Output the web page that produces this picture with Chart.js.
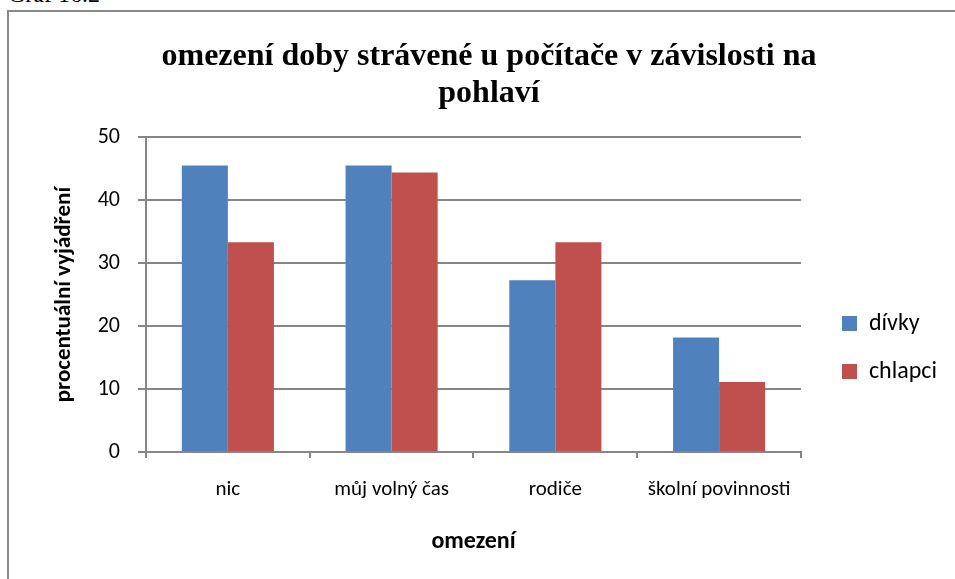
<!DOCTYPE html>
<html>
<head>
<meta charset="utf-8">
<script src="https://cdn.jsdelivr.net/npm/chart.js@4.4.1/dist/chart.umd.min.js"></script>
<style>
  html, body { margin: 0; padding: 0; background: #fff; overflow: hidden; }
  #caption {
    position: absolute; left: 8px; top: -18px;
    font: 24px "Liberation Serif", serif; line-height: 1; color: #000;
  }
  #frame {
    position: absolute; left: 7px; top: 10px; width: 1000px; height: 1000px;
    border-left: 2px solid #8a8a8a; border-top: 2px solid #8a8a8a;
  }
  #wrap { position: absolute; left: 0; top: 0; width: 955px; height: 579px; }
</style>
</head>
<body>
<div id="caption">Graf 16.2</div>
<div id="frame"></div>
<div id="wrap"><canvas id="chart"></canvas></div>
<script>
const categories = ['nic', 'můj volný čas', 'rodiče', 'školní povinnosti'];
const divky = [45.5, 45.5, 27.3, 18.2];
const chlapci = [33.3, 44.4, 33.3, 11.1];
const yTicks = [0, 10, 20, 30, 40, 50];

const sansFont = 'Carlito, Lato, "Noto Sans", sans-serif';
const axisGray = '#868686';

// nudge the legend block a bit right and down, away from the plot
const legendShift = {
  id: 'legendShift',
  afterLayout(chart) {
    const lg = chart.legend;
    lg.left += 17;
    lg.right += 17;
    lg.top += 58;
    lg.bottom += 58;
  },
};

new Chart(document.getElementById('chart'), {
  type: 'bar',
  data: {
    labels: categories,
    datasets: [
      {
        label: 'dívky',
        data: divky,
        backgroundColor: '#4F81BD',
        categoryPercentage: 0.5625,
        barPercentage: 1,
      },
      {
        label: 'chlapci',
        data: chlapci,
        backgroundColor: '#C0504D',
        categoryPercentage: 0.5625,
        barPercentage: 1,
      },
    ],
  },
  options: {
    responsive: true,
    maintainAspectRatio: false,
    animation: false,
    layout: { padding: { top: 0, right: 25, bottom: 0, left: 48 } },
    plugins: {
      title: {
        display: true,
        text: ['omezení doby strávené u počítače v závislosti na', 'pohlaví'],
        color: '#000',
        font: { family: '"Liberation Serif", serif', size: 32, weight: 'bold', lineHeight: 1.16 },
        padding: { top: 38, bottom: 25 },
      },
      legend: {
        position: 'right',
        labels: {
          color: '#000',
          font: { family: sansFont, size: 24 },
          boxWidth: 15,
          boxHeight: 15,
          padding: 24,
        },
      },
      tooltip: { enabled: false },
    },
    scales: {
      x: {
        grid: {
          drawOnChartArea: false,
          drawTicks: true,
          tickLength: 6,
          color: axisGray,
          lineWidth: 2,
        },
        border: { color: axisGray, width: 2 },
        ticks: {
          color: '#000',
          font: { family: sansFont, size: 21 },
          padding: 19,
          maxRotation: 0,
        },
        title: {
          display: true,
          text: 'omezení',
          color: '#000',
          font: { family: sansFont, size: 24, weight: 'bold' },
          padding: { top: 6, bottom: 23 },
        },
      },
      y: {
        min: 0,
        max: 50,
        afterBuildTicks: (scale) => {
          scale.ticks = yTicks.map((v) => ({ value: v }));
        },
        afterFit: (scale) => {
          scale.width = 98;
        },
        grid: {
          color: axisGray,
          lineWidth: 2,
          tickLength: 8,
        },
        border: { color: axisGray, width: 2 },
        ticks: {
          color: '#000',
          font: { family: sansFont, size: 22 },
          padding: 18,
        },
        title: {
          display: true,
          text: 'procentuální vyjádření',
          color: '#000',
          font: { family: sansFont, size: 23, weight: 'bold' },
          padding: { top: 2, bottom: 0 },
        },
      },
    },
  },
  plugins: [legendShift],
});
</script>
</body>
</html>
